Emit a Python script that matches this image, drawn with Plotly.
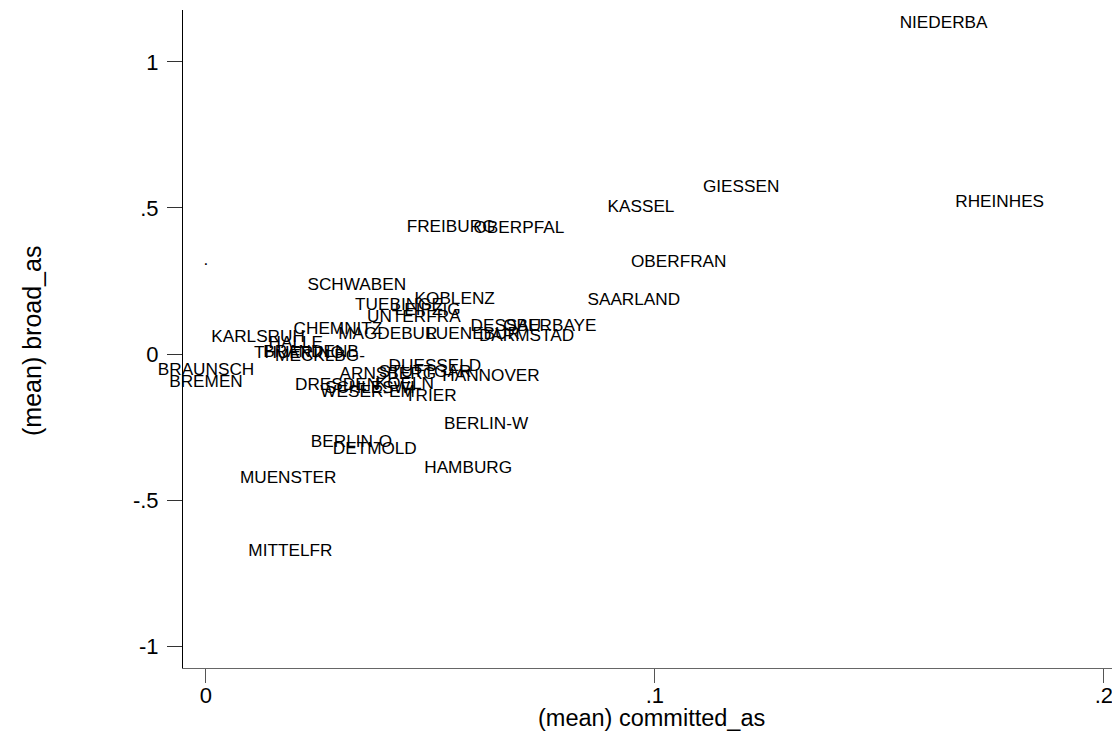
import plotly.graph_objects as go

# District labels (marker labels, centred on each point)
names = [
    "NIEDERBA", "RHEINHES", "GIESSEN", "KASSEL", "OBERFRAN", "SAARLAND",
    "FREIBURG", "OBERPFAL", "SCHWABEN", "KOBLENZ", "TUEBINGE", "LEIPZIG",
    "UNTERFRA", "CHEMNITZ", "MAGDEBUR", "LUENEBUR", "DESSAU", "OBERBAYE",
    "DARMSTAD", "KARLSRUH", "HALLE", "THUERING", "BRANDENB", "MECKLBG-",
    "BRAUNSCH", "BREMEN", "DUESSELD", "ARNSBERG", "STUTTGAR", "HANNOVER",
    "DRESDEN", "KOELN", "SCHLESWI", "WESER-EM", "TRIER", "BERLIN-W",
    "BERLIN-O", "DETMOLD", "HAMBURG", "MUENSTER", "MITTELFR", ".",
]
committed_as = [
    0.1643, 0.1768, 0.1192, 0.0969, 0.1053, 0.0953,
    0.0546, 0.0697, 0.0336, 0.0554, 0.0430, 0.0494,
    0.0463, 0.0294, 0.0405, 0.0595, 0.0668, 0.0766,
    0.0714, 0.0116, 0.0200, 0.0207, 0.0234, 0.0254,
    0.0000, 0.0000, 0.0510, 0.0405, 0.0488, 0.0635,
    0.0292, 0.0443, 0.0365, 0.0360, 0.0501, 0.0624,
    0.0324, 0.0376, 0.0584, 0.0183, 0.0188, 0.0000,
]
broad_as = [
    1.130, 0.519, 0.568, 0.501, 0.312, 0.182,
    0.432, 0.428, 0.233, 0.186, 0.166, 0.147,
    0.123, 0.082, 0.065, 0.065, 0.092, 0.092,
    0.058, 0.0565, 0.034, 0.000, 0.005, -0.010,
    -0.058, -0.099, -0.0445, -0.072, -0.065, -0.079,
    -0.108, -0.106, -0.120, -0.134, -0.147, -0.243,
    -0.305, -0.329, -0.394, -0.428, -0.678, 0.318,
]

x_ticks = [0, 0.1, 0.2]
x_ticktext = ["0", ".1", ".2"]
y_ticks = [-1, -0.5, 0, 0.5, 1]
y_ticktext = ["-1", "-.5", "0", ".5", "1"]

FONT = "Liberation Sans, Arial, sans-serif"

fig = go.Figure()
fig.add_trace(go.Scatter(
    x=committed_as, y=broad_as, text=names,
    mode="text", textposition="middle center",
    textfont=dict(family=FONT, size=17.2, color="black"),
    cliponaxis=False, showlegend=False, hoverinfo="skip",
))

# page body has an 8px margin: size/margins compensate so the plot area
# lands at x 183..1120, y 10..668 in the window
fig.update_layout(
    width=1112, height=731,
    margin=dict(l=175, r=0, t=2, b=71),
    paper_bgcolor="white", plot_bgcolor="white",
    font=dict(family=FONT, color="black"),
    xaxis=dict(
        range=[-0.00512, 0.2036], tickvals=x_ticks, ticktext=x_ticktext,
        showgrid=False, zeroline=False, showline=True, linecolor="#666666",
        linewidth=1, ticks="outside", ticklen=14, tickcolor="#555555",
        tickfont=dict(family=FONT, size=22, color="black"),
        ticklabelstandoff=-6,
    ),
    yaxis=dict(
        range=[-1.0753, 1.178], tickvals=y_ticks, ticktext=y_ticktext,
        showgrid=False, zeroline=False, showline=True, linecolor="black",
        linewidth=1, ticks="outside", ticklen=15, tickcolor="#333333",
        tickfont=dict(family=FONT, size=22, color="black"),
        ticklabelstandoff=4,
    ),
    annotations=[
        dict(text="(mean) committed_as", xref="paper", yref="paper",
             x=0.5, y=0, xanchor="center", yanchor="middle", yshift=-50,
             showarrow=False, font=dict(family=FONT, size=23.5, color="black")),
        dict(text="(mean) broad_as", xref="paper", yref="paper",
             x=0, y=0.497, xanchor="center", yanchor="middle", xshift=-151,
             textangle=-90, showarrow=False,
             font=dict(family=FONT, size=25, color="black")),
    ],
)

fig.write_html("out.html")
